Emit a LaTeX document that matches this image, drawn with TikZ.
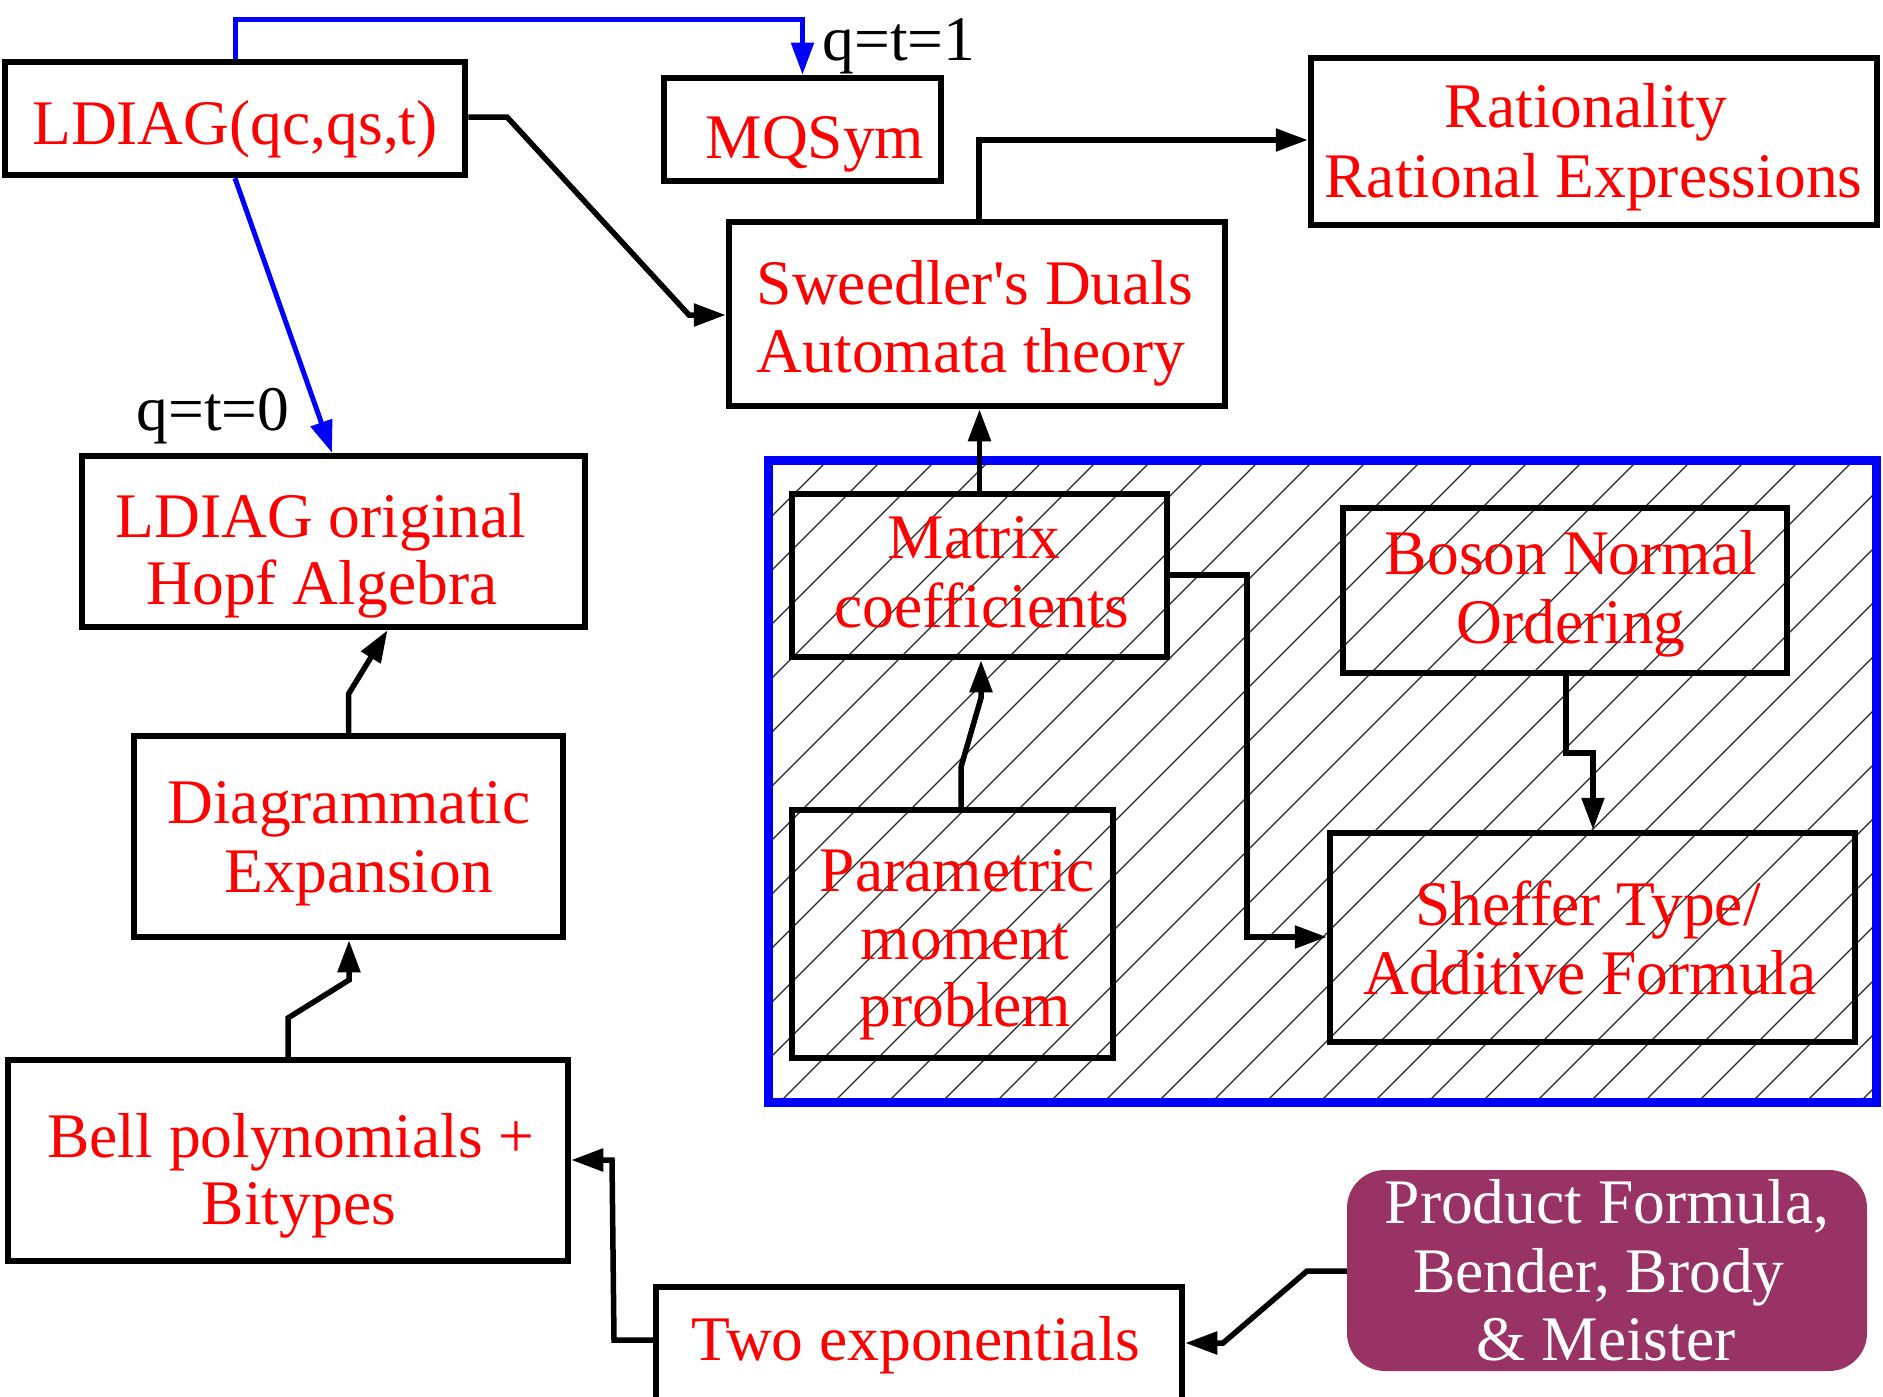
\documentclass[tikz,border=0pt]{standalone}
\usepackage{fontspec}
\setmainfont{Liberation Serif}
\usetikzlibrary{arrows.meta}
\definecolor{prodfill}{HTML}{993366}
\begin{document}
\begin{tikzpicture}[x=1pt,y=-1pt,
  box/.style={draw=black,line width=6.5pt,rectangle,inner sep=0pt},
  txt/.style={inner sep=0pt,anchor=base,text=red,font=\fontsize{63.5}{69}\selectfont},
  lbl/.style={inner sep=0pt,anchor=base,text=black,font=\fontsize{63.5}{69}\selectfont},
  wtxt/.style={inner sep=0pt,anchor=base,text=white,font=\fontsize{63.5}{69}\selectfont},
  conn/.style={draw=black,line width=5.5pt,-{Triangle[length=32pt,width=22pt]}},
  bconn/.style={draw=blue,line width=5pt,-{Triangle[length=32pt,width=22pt]}},
  hatch/.style={draw=black!85,line width=1.3pt}
]
\path[use as bounding box] (0,0) rectangle (1883,1397);
\clip (0,0) rectangle (1883,1397);

% hatched region inside the blue frame
\begin{scope}
  \clip (768,460) rectangle (1876,1102);
  \foreach \k in {-14,...,22} {
    \pgfmathsetmacro{\c}{1882+54*\k}
    \draw[hatch] (\c-1200,1200) -- (\c-350,350);
  }
\end{scope}
\node[draw=blue,line width=9pt,rectangle,inner sep=0pt,minimum width=1108pt,minimum height=642pt] (frame) at (1322,781) {};

% boxes
\node[box,minimum width=460pt,minimum height=113pt] (ldiag) at (235,118.5) {};
\node[box,minimum width=277pt,minimum height=103pt] (mqsym) at (802.5,129.5) {};
\node[box,minimum width=566pt,minimum height=167pt] (ratio) at (1594,141.5) {};
\node[box,minimum width=496pt,minimum height=184pt] (sweed) at (977,314) {};
\node[box,minimum width=503pt,minimum height=171pt] (ldorig) at (333.5,541.5) {};
\node[box,minimum width=429pt,minimum height=201pt] (diag) at (348.5,836.5) {};
\node[box,minimum width=560pt,minimum height=201pt] (bell) at (288,1160.5) {};
\node[box,minimum width=526pt,minimum height=113pt] (twoexp) at (919,1343.5) {};
\node[fill=prodfill,rounded corners=38pt,rectangle,inner sep=0pt,minimum width=520pt,minimum height=201pt] (product) at (1607,1270.5) {};
\node[box,minimum width=375pt,minimum height=163pt] (matrix) at (979.5,575.5) {};
\node[box,minimum width=444pt,minimum height=165pt] (boson) at (1565,590.5) {};
\node[box,minimum width=321pt,minimum height=248pt] (param) at (952.5,934) {};
\node[box,minimum width=525pt,minimum height=209pt] (sheffer) at (1592.5,937.5) {};

% texts
\node[txt] (t-ldiag) at (235,144) {LDIAG(qc,qs,t)};
\node[txt] (t-mqsym) at (815,158) {MQSym};
\node[lbl] (t-q1) at (899,61) {q=t=1};
\node[lbl] (t-q0) at (213,430) {q=t=0};
\node[txt] (t-ratio1) at (1586,128) {Rationality};
\node[txt] (t-ratio2) at (1593.5,197) {Rational Expressions};
\node[txt] (t-sweed1) at (975,304) {Sweedler\textquotesingle s Duals};
\node[txt] (t-sweed2) at (971,372) {Automata theory};
\node[txt] (t-ldorig1) at (321,537) {LDIAG original};
\node[txt] (t-ldorig2) at (322,604) {Hopf Algebra};
\node[txt] (t-diag1) at (349,823) {Diagrammatic};
\node[txt] (t-diag2) at (359,892) {Expansion};
\node[txt] (t-bell1) at (291,1157) {Bell polynomials +};
\node[txt] (t-bell2) at (299,1224) {Bitypes};
\node[txt] (t-twoexp) at (916,1360) {Two exponentials};
\node[wtxt] (t-prod1) at (1607,1223) {Product Formula,};
\node[wtxt] (t-prod2) at (1599,1292) {Bender, Brody};
\node[wtxt] (t-prod3) at (1606,1360) {\& Meister};
\node[txt] (t-matrix1) at (974,558) {Matrix};
\node[txt] (t-matrix2) at (982,627) {coefficients};
\node[txt] (t-boson1) at (1571,574) {Boson Normal};
\node[txt] (t-boson2) at (1571,643) {Ordering};
\node[txt] (t-param1) at (957.5,891) {Parametric};
\node[txt] (t-param2) at (965,959) {moment};
\node[txt] (t-param3) at (965.5,1026) {problem};
\node[txt] (t-sheffer1) at (1588,925) {Sheffer Type/};
\node[txt] (t-sheffer2) at (1590,994) {Additive Formula};

% connectors
\draw[bconn] (ldiag.north) -- (ldiag.north |- 0,20) -- (mqsym.north |- 0,20) -- (mqsym.north);
\draw[bconn] (ldiag.south) -- (ldorig.north -| 332,0);
\draw[conn] (ldiag.east |- 0,117) -- (507,117) -- (689,315) -- (sweed.west |- 0,315);
\draw[conn] (sweed.north -| 979,0) -- (979,140) -- (ratio.west |- 0,140);
\draw[conn] (matrix.north) -- (sweed.south -| matrix.north);
\draw[conn] (matrix.east |- 0,575) -- (1247,575) -- (1247,937) -- (sheffer.west |- 0,937);
\draw[conn] (boson.south -| 1566,0) -- (1566,753) -- (1593,753) -- (sheffer.north -| 1593,0);
\draw[conn] (param.north -| 961,0) -- (961,767) -- (981,698) -- (matrix.south -| 981,0);
\draw[conn] (diag.north) -- (348.5,694) -- (ldorig.south -| 387.5,0);
\draw[conn] (bell.north) -- (288,1018) -- (349,980) -- (diag.south -| 349,0);
\draw[conn] (twoexp.west |- 0,1340) -- (614,1340) -- (612,1160) -- (bell.east |- 0,1160);
\draw[conn] (product.west |- 0,1271) -- (1307,1271) -- (1223,1343) -- (twoexp.east |- 0,1343);
\end{tikzpicture}
\end{document}
